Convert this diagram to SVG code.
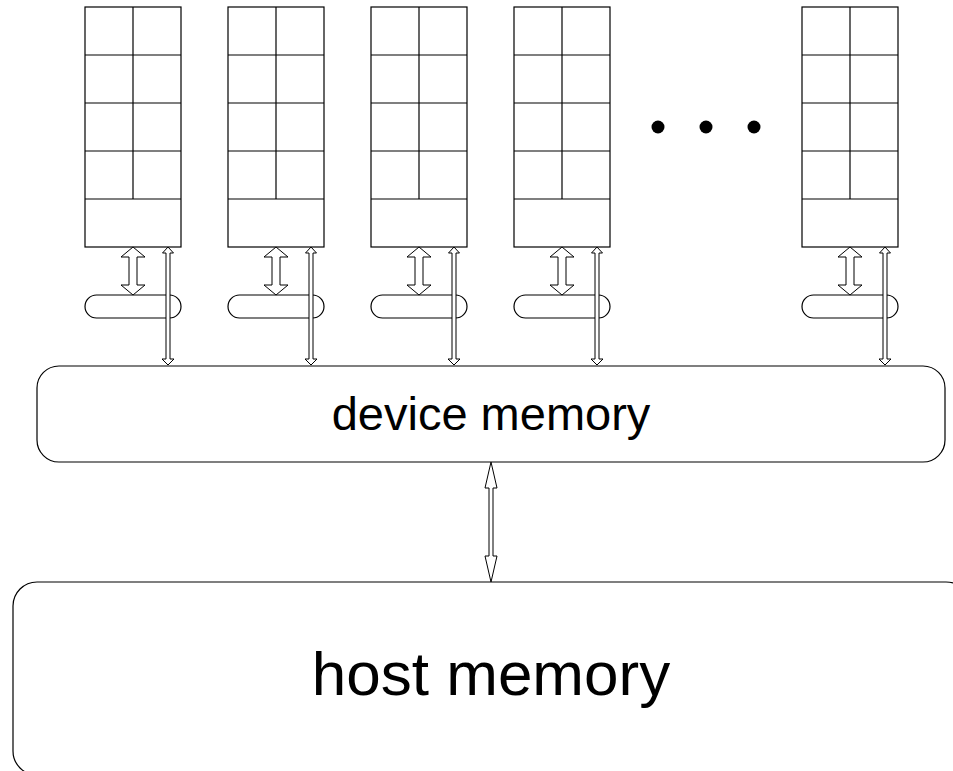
<svg xmlns="http://www.w3.org/2000/svg" xmlns:xlink="http://www.w3.org/1999/xlink" width="953" height="771" viewBox="0 0 953 771">
  <style>
    .ln { fill: none; stroke: #000; stroke-width: 1.2; }
    .box { fill: #fff; stroke: #000; stroke-width: 1.2; }
    .arr { fill: #fff; stroke: #000; stroke-width: 1; stroke-linejoin: miter; }
    .lbl { font-family: "Liberation Sans", Arial, sans-serif; fill: #000; text-anchor: middle; }
  </style>
  <defs>
    <!-- processor column: 4 rows of 2 cells plus a shared bottom cell -->
    <g id="column">
      <rect class="box" x="0" y="7" width="96" height="240"/>
      <line class="ln" x1="0" y1="55" x2="96" y2="55"/>
      <line class="ln" x1="0" y1="103" x2="96" y2="103"/>
      <line class="ln" x1="0" y1="151" x2="96" y2="151"/>
      <line class="ln" x1="0" y1="199" x2="96" y2="199"/>
      <line class="ln" x1="48" y1="7" x2="48" y2="199"/>
    </g>
    <rect id="pill" class="box" x="0" y="295" width="96" height="23" rx="11.5" ry="11.5"/>
    <!-- wide hollow double arrow between column and pill -->
    <polygon id="wideArrow" class="arr" points="48,247 60,257 52,257 52,285 60,285 48,295 36,285 44,285 44,257 36,257"/>
    <!-- thin hollow double arrow between column and device memory -->
    <polygon id="thinArrow" class="arr" points="83,247 88.5,253 85,253 85,359 89,359 83,365 77,359 81,359 81,253 77.5,253"/>
  </defs>

  <rect x="0" y="0" width="953" height="771" fill="#fff"/>

  <g id="host-memory">
    <rect class="box" x="13" y="582" width="957" height="193" rx="24" ry="24"/>
    <text class="lbl" x="491" y="695" font-size="62">host memory</text>
  </g>

  <g id="device-memory">
    <rect class="box" x="37" y="366" width="908" height="96" rx="22" ry="22"/>
    <text class="lbl" x="491" y="430" font-size="47">device memory</text>
  </g>

  <g id="sm-1"><use xlink:href="#column" x="85"/></g>
  <g id="sm-2"><use xlink:href="#column" x="228"/></g>
  <g id="sm-3"><use xlink:href="#column" x="371"/></g>
  <g id="sm-4"><use xlink:href="#column" x="514"/></g>
  <g id="sm-n"><use xlink:href="#column" x="802"/></g>

  <g id="shared-1"><use xlink:href="#pill" x="85"/></g>
  <g id="shared-2"><use xlink:href="#pill" x="228"/></g>
  <g id="shared-3"><use xlink:href="#pill" x="371"/></g>
  <g id="shared-4"><use xlink:href="#pill" x="514"/></g>
  <g id="shared-n"><use xlink:href="#pill" x="802"/></g>

  <g id="ellipsis">
    <circle cx="658" cy="127" r="6.5" fill="#000"/>
    <circle cx="706" cy="127" r="6.5" fill="#000"/>
    <circle cx="754" cy="127" r="6.5" fill="#000"/>
  </g>

  <g id="connectors">
    <use xlink:href="#wideArrow" x="85"/>
    <use xlink:href="#wideArrow" x="228"/>
    <use xlink:href="#wideArrow" x="371"/>
    <use xlink:href="#wideArrow" x="514"/>
    <use xlink:href="#wideArrow" x="802"/>
    <use xlink:href="#thinArrow" x="85"/>
    <use xlink:href="#thinArrow" x="228"/>
    <use xlink:href="#thinArrow" x="371"/>
    <use xlink:href="#thinArrow" x="514"/>
    <use xlink:href="#thinArrow" x="802"/>
    <polygon class="arr" points="491,462 497,488 493,488 493,556 497,556 491,582 485,556 489,556 489,488 485,488"/>
  </g>
</svg>
